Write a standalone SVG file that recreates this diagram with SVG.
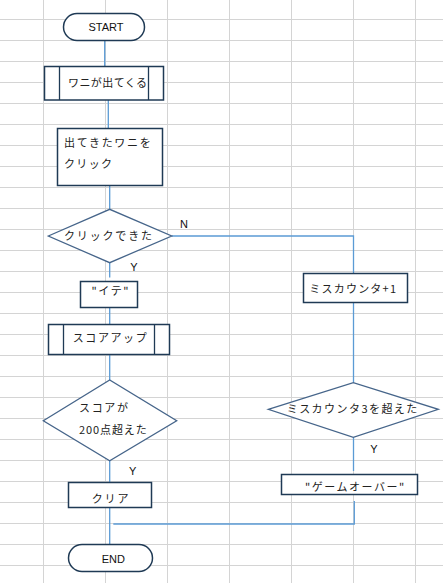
<svg xmlns="http://www.w3.org/2000/svg" width="443" height="583" viewBox="0 0 443 583">
<style>
.grid line{stroke:#d4d4d4;stroke-width:1}
.node{fill:#ffffff;stroke:#1f3a55;stroke-width:1.5}
.dia{fill:#ffffff;stroke:#46658a;stroke-width:1.3}
.inner{stroke:#1f3a55;stroke-width:1.3}
.conn{fill:none;stroke:#5b9bd5;stroke-width:1.3}
.jp{font-family:"Noto Sans CJK JP","Noto Sans",sans-serif;font-size:11px;fill:#222222}
.lat{font-family:"Liberation Sans",Arial,sans-serif;font-size:11px;fill:#111111}
</style>
<rect x="0" y="0" width="443" height="583" fill="#ffffff"/>
<g class="grid">
<line x1="43.5" y1="0" x2="43.5" y2="583"/>
<line x1="105.5" y1="0" x2="105.5" y2="583"/>
<line x1="167.5" y1="0" x2="167.5" y2="583"/>
<line x1="229.5" y1="0" x2="229.5" y2="583"/>
<line x1="291.5" y1="0" x2="291.5" y2="583"/>
<line x1="353.5" y1="0" x2="353.5" y2="583"/>
<line x1="415.5" y1="0" x2="415.5" y2="583"/>
<line x1="0" y1="19.5" x2="443" y2="19.5"/>
<line x1="0" y1="40.5" x2="443" y2="40.5"/>
<line x1="0" y1="61.5" x2="443" y2="61.5"/>
<line x1="0" y1="82.5" x2="443" y2="82.5"/>
<line x1="0" y1="103.5" x2="443" y2="103.5"/>
<line x1="0" y1="124.5" x2="443" y2="124.5"/>
<line x1="0" y1="145.5" x2="443" y2="145.5"/>
<line x1="0" y1="166.5" x2="443" y2="166.5"/>
<line x1="0" y1="187.5" x2="443" y2="187.5"/>
<line x1="0" y1="208.5" x2="443" y2="208.5"/>
<line x1="0" y1="229.5" x2="443" y2="229.5"/>
<line x1="0" y1="250.5" x2="443" y2="250.5"/>
<line x1="0" y1="271.5" x2="443" y2="271.5"/>
<line x1="0" y1="292.5" x2="443" y2="292.5"/>
<line x1="0" y1="313.5" x2="443" y2="313.5"/>
<line x1="0" y1="334.5" x2="443" y2="334.5"/>
<line x1="0" y1="355.5" x2="443" y2="355.5"/>
<line x1="0" y1="376.5" x2="443" y2="376.5"/>
<line x1="0" y1="397.5" x2="443" y2="397.5"/>
<line x1="0" y1="418.5" x2="443" y2="418.5"/>
<line x1="0" y1="439.5" x2="443" y2="439.5"/>
<line x1="0" y1="460.5" x2="443" y2="460.5"/>
<line x1="0" y1="481.5" x2="443" y2="481.5"/>
<line x1="0" y1="502.5" x2="443" y2="502.5"/>
<line x1="0" y1="523.5" x2="443" y2="523.5"/>
<line x1="0" y1="544.5" x2="443" y2="544.5"/>
<line x1="0" y1="565.5" x2="443" y2="565.5"/>
</g>
<g id="connectors">
<path class="conn" d="M104.7,40.5 V66.5"/>
<path class="conn" d="M108.3,100 V128.5"/>
<path class="conn" d="M109.7,185.5 V209.5"/>
<path class="conn" d="M109.7,262.7 V277.5"/>
<path class="conn" d="M171.7,236 H353.5 V273.5"/>
<path class="conn" d="M109.7,307.5 V324.5"/>
<path class="conn" d="M109.7,354.5 V380"/>
<path class="conn" d="M109.7,460.7 V482.5"/>
<path class="conn" d="M109.7,507.5 V544.5"/>
<path class="conn" d="M353.5,302.5 V382.7"/>
<path class="conn" d="M353.5,437.3 V471"/>
<path class="conn" d="M354.3,501 V524 H113.3"/>
<text class="lat" x="184" y="228" text-anchor="middle">N</text>
<text class="lat" x="134" y="271" text-anchor="middle">Y</text>
<text class="lat" x="132.7" y="475" text-anchor="middle">Y</text>
<text class="lat" x="374" y="452.5" text-anchor="middle">Y</text>
</g>
<g id="start">
<rect class="node" x="63.5" y="13.5" width="81" height="27" rx="13.5"/>
<text class="lat" x="106" y="30.5" text-anchor="middle">START</text>
</g>
<g id="wani-appears">
<rect class="node" x="44.5" y="66.5" width="119" height="33.5"/>
<line class="inner" x1="59.5" y1="66.5" x2="59.5" y2="100"/>
<line class="inner" x1="148.5" y1="66.5" x2="148.5" y2="100"/>
<text class="jp" x="68" y="87" textLength="79" lengthAdjust="spacing">ワニが出てくる</text>
</g>
<g id="click-wani">
<rect class="node" x="57.5" y="128.5" width="105" height="57"/>
<text class="jp" x="64" y="147" textLength="86.7" lengthAdjust="spacing">出てきたワニを</text>
<text class="jp" x="64" y="168" textLength="48" lengthAdjust="spacing">クリック</text>
</g>
<g id="clicked">
<polygon class="dia" points="48.3,236 109.7,209.3 171.7,236 109.7,262.7"/>
<text class="jp" x="64" y="240" textLength="88" lengthAdjust="spacing">クリックできた</text>
</g>
<g id="ite">
<rect class="node" x="80.5" y="281.5" width="57" height="26"/>
<text class="jp" x="91.5" y="294.5" textLength="37" lengthAdjust="spacing">"イテ"</text>
</g>
<g id="score-up">
<rect class="node" x="48.5" y="324.5" width="121" height="30"/>
<line class="inner" x1="63.5" y1="324.5" x2="63.5" y2="354.5"/>
<line class="inner" x1="154.5" y1="324.5" x2="154.5" y2="354.5"/>
<text class="jp" x="72.7" y="342" textLength="74" lengthAdjust="spacing">スコアアップ</text>
</g>
<g id="score-check">
<polygon class="dia" points="43.3,420.7 109.7,380 176.7,420.7 109.7,460.7"/>
<text class="jp" x="79" y="411.5" textLength="49" lengthAdjust="spacing">スコアが</text>
<text class="jp" x="79" y="434" textLength="67.7" lengthAdjust="spacing">200点超えた</text>
</g>
<g id="clear">
<rect class="node" x="68.5" y="482.5" width="83" height="25"/>
<text class="jp" x="91.7" y="503" textLength="36.7" lengthAdjust="spacing">クリア</text>
</g>
<g id="end">
<rect class="node" x="68.5" y="544.5" width="84" height="27" rx="13.5"/>
<text class="lat" x="113.3" y="562.5" text-anchor="middle">END</text>
</g>
<g id="miss-plus">
<rect class="node" x="303.5" y="273.5" width="104" height="29"/>
<text class="jp" x="309.3" y="293" textLength="86.7" lengthAdjust="spacing">ミスカウンタ+1</text>
</g>
<g id="miss-check">
<polygon class="dia" points="268.3,409.3 353.3,382.7 438.3,409.3 353.3,437.3"/>
<text class="jp" x="286.7" y="413" textLength="130.6" lengthAdjust="spacing">ミスカウンタ3を超えた</text>
</g>
<g id="game-over">
<rect class="node" x="281.5" y="474.5" width="136" height="20"/>
<text class="jp" x="305" y="490.5" textLength="99.3" lengthAdjust="spacing">"ゲームオーバー"</text>
</g>
</svg>
